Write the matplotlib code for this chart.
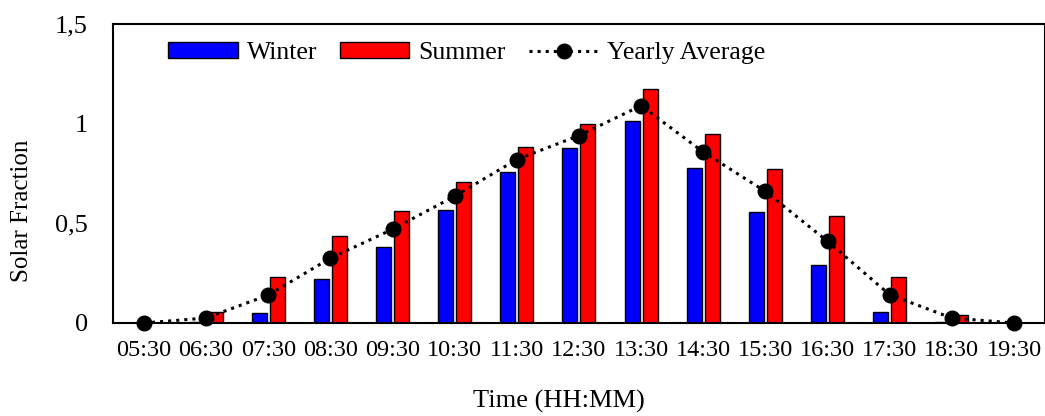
import numpy as np
import matplotlib
matplotlib.use("Agg")
import matplotlib.pyplot as plt

plt.rcParams['font.family'] = ['Liberation Serif', 'DejaVu Serif']

# Données
heures = ['05:30', '06:30', '07:30', '08:30', '09:30', '10:30', '11:30', '12:30',
          '13:30', '14:30', '15:30', '16:30', '17:30', '18:30', '19:30']
hiver = [0, 0.004, 0.05, 0.22, 0.38, 0.565, 0.758, 0.878, 1.015, 0.775, 0.555, 0.29, 0.055, 0.003, 0]
ete = [0, 0.054, 0.23, 0.435, 0.56, 0.707, 0.883, 1.0, 1.172, 0.947, 0.77, 0.535, 0.23, 0.04, 0]
moyenne = [0, 0.025, 0.14, 0.325, 0.47, 0.636, 0.82, 0.94, 1.09, 0.858, 0.66, 0.41, 0.142, 0.025, 0]
yticks = [0, 0.5, 1, 1.5]
ytick_labels = ['0', '0,5', '1', '1,5']

x = np.arange(len(heures))
largeur = 0.24

fig = plt.figure(figsize=(10.45, 4.16), dpi=100)
ax = fig.add_axes([0.108, 0.2236, 0.892, 0.7188])

b1 = ax.bar(x - 0.145, hiver, largeur, color='#0000FF', edgecolor='black', linewidth=1.0, label='Winter', zorder=2)
b2 = ax.bar(x + 0.145, ete, largeur, color='#FF0000', edgecolor='black', linewidth=1.0, label='Summer', zorder=2)
l1, = ax.plot(x, moyenne, linestyle=':', color='black', linewidth=2.2, marker='o', markersize=10.5,
              label='Yearly Average', zorder=3, clip_on=False)

ax.set_xlim(-0.5, 14.5)
ax.set_ylim(0, 1.5)
ax.set_xticks(x)
ax.set_xticklabels(heures, fontsize=17.5)
ax.set_yticks(yticks)
ax.set_yticklabels(ytick_labels, fontsize=19)
ax.tick_params(axis='x', length=0, pad=12)
ax.tick_params(axis='y', length=0, pad=18)
for s in ax.spines.values():
    s.set_linewidth(1.5)
    s.set_color('black')

fig.text(22 / 1045, 1 - 211 / 416, 'Solar Fraction', rotation=90, fontsize=18,
         ha='center', va='center')
fig.text(559 / 1045, 1 - 401 / 416, 'Time (HH:MM)', fontsize=19, ha='center', va='center')

ax.legend([b1, b2, l1], ['Winter', 'Summer', 'Yearly Average'],
          loc='upper left', bbox_to_anchor=(0.04, 1.0), ncol=3, frameon=False, fontsize=18.5,
          handlelength=2.7, handleheight=0.55, handletextpad=0.35, columnspacing=0.9,
          borderaxespad=0.3)

plt.savefig('out.png', dpi=100)
